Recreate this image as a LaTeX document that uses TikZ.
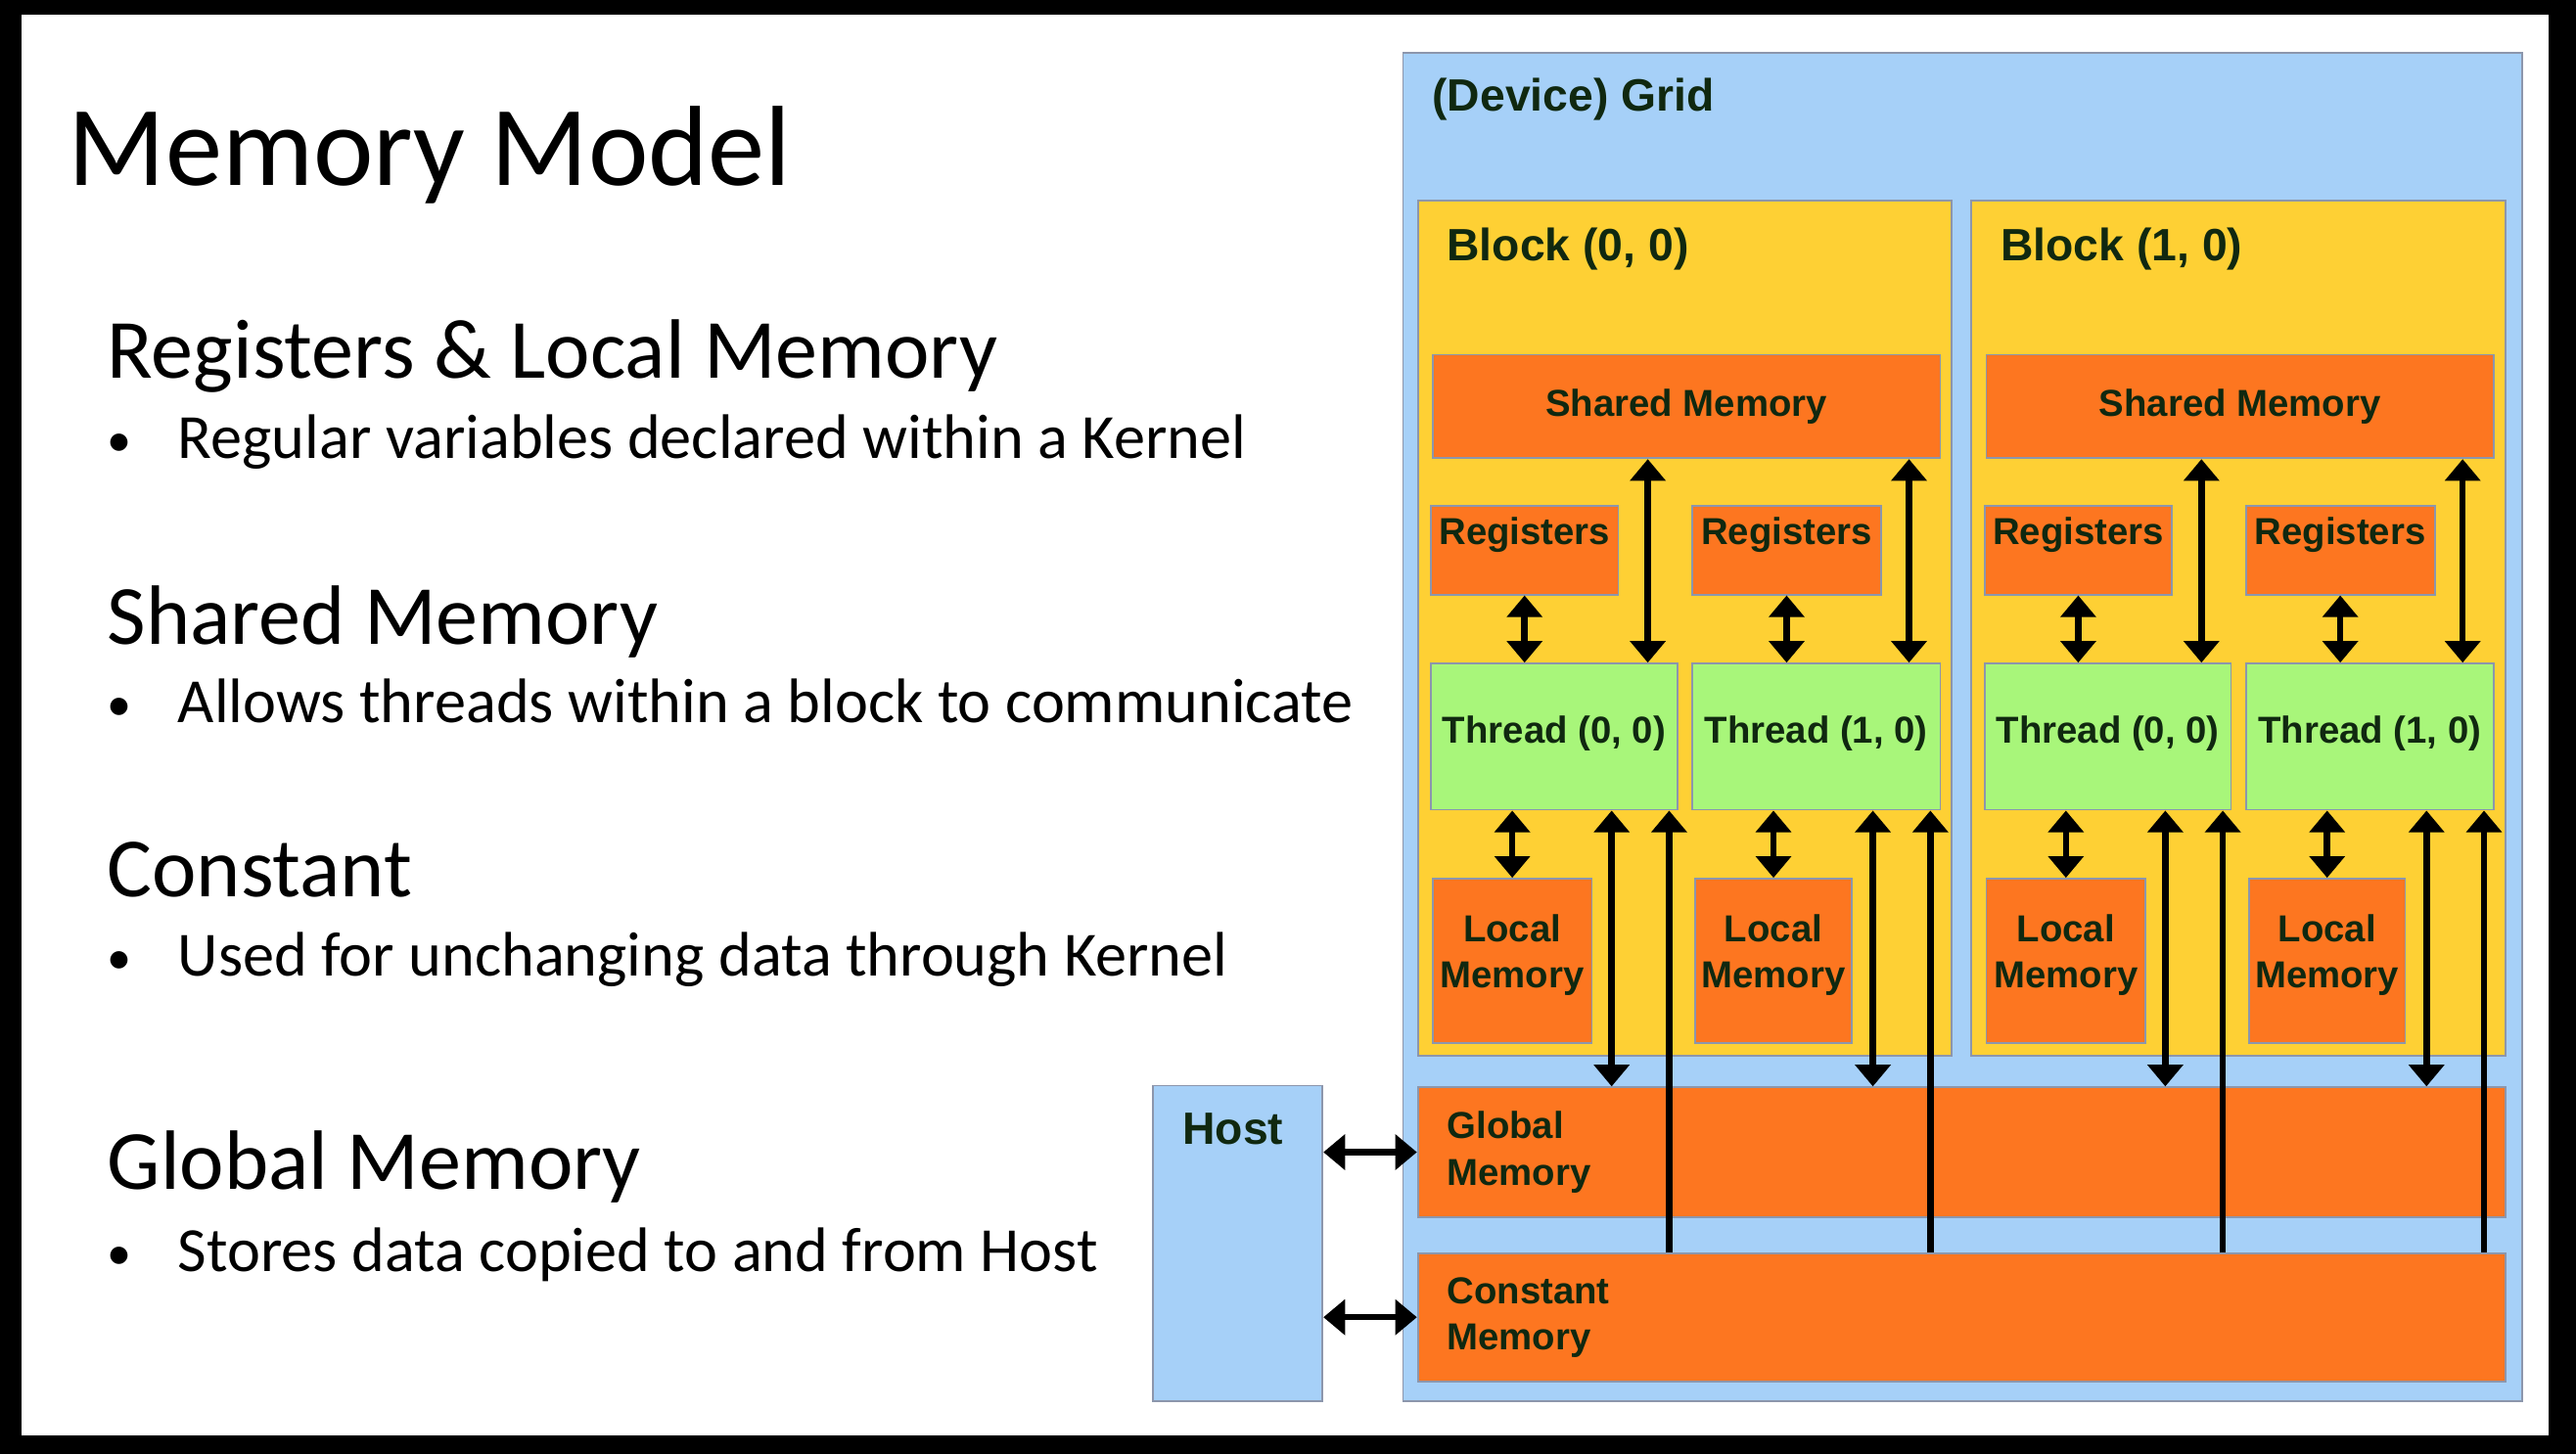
\documentclass[tikz,border=0pt]{standalone}
\usepackage{fontspec}
\setmainfont{Carlito}
\newfontfamily\dfont{Liberation Sans}
\usetikzlibrary{arrows.meta,fit}
\definecolor{gblue}{RGB}{166,208,248}
\definecolor{byellow}{RGB}{254,208,52}
\definecolor{orng}{RGB}{253,118,32}
\definecolor{tgreen}{RGB}{168,246,122}
\definecolor{bordc}{RGB}{140,150,172}
\definecolor{dtc}{RGB}{16,40,16}
\begin{document}
\begin{tikzpicture}[x=0.02cm,y=-0.02cm,
  bx/.style={draw=bordc,line width=0.6pt,inner sep=0pt},
  gridbox/.style={bx,fill=gblue},
  blockbox/.style={bx,fill=byellow},
  obox/.style={bx,fill=orng},
  tbox/.style={bx,fill=tgreen},
  dtext/.style={font=\dfont\bfseries\fontsize{13}{16}\selectfont,text=dtc,inner sep=0pt},
  ttext/.style={font=\dfont\bfseries\fontsize{15.7}{19}\selectfont,text=dtc,inner sep=0pt},
  head/.style={font=\fontsize{29.2}{35}\selectfont,anchor=base west,inner sep=0pt},
  btext/.style={font=\fontsize{21.8}{26}\selectfont,anchor=base west,inner sep=0pt},
  bdot/.style={font=\fontsize{17}{20}\selectfont,anchor=base west,inner sep=0pt},
  arr/.style={line width=2.2pt,-{Triangle[width=12pt,length=7.5pt]}},
  dbl/.style={line width=2.2pt,{Triangle[width=12pt,length=7.5pt]}-{Triangle[width=12pt,length=7.5pt]}}]
\fill[black] (0,0) rectangle (1568,885);
\fill[white] (13,9) rectangle (1551,874);
\useasboundingbox (0,0) rectangle (1568,885);
% left text
\node[font=\fontsize{39.5}{48}\selectfont,anchor=base west,inner sep=0pt] (title) at (41,113) {Memory Model};
\node[head] (h1) at (65,230) {Registers \& Local Memory};
\node[bdot] (d1) at (65,278) {•};
\node[btext] (b1) at (108,279) {Regular variables declared within a Kernel};
\node[head] (h2) at (65,392) {Shared Memory};
\node[bdot] (d2) at (65,439) {•};
\node[btext] (b2) at (108,440) {Allows threads within a block to communicate};
\node[head] (h3) at (65,546) {Constant};
\node[bdot] (d3) at (65,593) {•};
\node[btext] (b3) at (108,594) {Used for unchanging data through Kernel};
\node[head] (h4) at (65,724) {Global Memory};
\node[bdot] (d4) at (65,773) {•};
\node[btext] (b4) at (108,774) {Stores data copied to and from Host};
% grid
\node[gridbox,fit={(854,32)(1535,853)},label={[ttext,anchor=north west,xshift=0.36cm,yshift=-0.32cm]north west:{(Device) Grid}}] (grid) {};
\foreach \b/\o in {0/0,1/337}{
  \node[blockbox,fit={(863+\o,122)(1188+\o,643)},label={[ttext,anchor=north west,xshift=0.36cm,yshift=-0.34cm]north west:{Block (\b, 0)}}] (blk\b) {};
  \node[obox,fit={(872+\o,216)(1181+\o,279)},label={[dtext,anchor=center]center:{Shared Memory}}] (sm\b) {};
  \node[obox,fit={(871+\o,308)(985+\o,362)},label={[dtext,anchor=north,yshift=-4pt]north:Registers}] (r\b0) {};
  \node[obox,fit={(1030+\o,308)(1145+\o,362)},label={[dtext,anchor=north,yshift=-4pt]north:Registers}] (r\b1) {};
  \node[tbox,fit={(871+\o,404)(1021+\o,493)},label={[dtext,anchor=center,yshift=1pt]center:{Thread (0, 0)}}] (t\b0) {};
  \node[tbox,fit={(1030+\o,404)(1181+\o,493)},label={[dtext,anchor=center,yshift=1pt]center:{Thread (1, 0)}}] (t\b1) {};
  \node[obox,fit={(872+\o,535)(969+\o,635)},label={[dtext,anchor=center,align=center,yshift=2pt]center:{Local\\Memory}}] (l\b0) {};
  \node[obox,fit={(1032+\o,535)(1127+\o,635)},label={[dtext,anchor=center,align=center,yshift=2pt]center:{Local\\Memory}}] (l\b1) {};
}
\node[obox,fit={(863,662)(1525,741)},label={[dtext,anchor=west,align=left,xshift=0.36cm]west:{Global\\Memory}}] (gm) {};
\node[obox,fit={(863,763)(1525,841)},label={[dtext,anchor=west,align=left,xshift=0.36cm]west:{Constant\\Memory}}] (cm) {};
\node[gridbox,fit={(702,661)(805,853)},label={[ttext,anchor=north west,xshift=0.36cm,yshift=-0.34cm]north west:Host}] (host) {};
% arrows
\draw[dbl] (host.east |- gm.west) -- (gm.west);
\draw[dbl] (host.east |- cm.west) -- (cm.west);
\foreach \b/\o in {0/0,1/337}{
  \foreach \i/\p in {0/0,1/159}{
    \coordinate (xs\b\i) at (1003+\o+\p,0);
    \coordinate (xg\b\i) at (981+\o+\p,0);
    \coordinate (xc\b\i) at (1016+\o+\p,0);
    \draw[dbl] (r\b\i.south) -- (r\b\i.south |- t\b\i.north);
    \draw[dbl] (sm\b.south -| xs\b\i) -- (t\b\i.north -| xs\b\i);
    \draw[dbl] (t\b\i.south -| l\b\i.north) -- (l\b\i.north);
    \draw[dbl] (t\b\i.south -| xg\b\i) -- (gm.north -| xg\b\i);
    \draw[arr] (cm.north -| xc\b\i) -- (t\b\i.south -| xc\b\i);
  }
}
\end{tikzpicture}
\end{document}
